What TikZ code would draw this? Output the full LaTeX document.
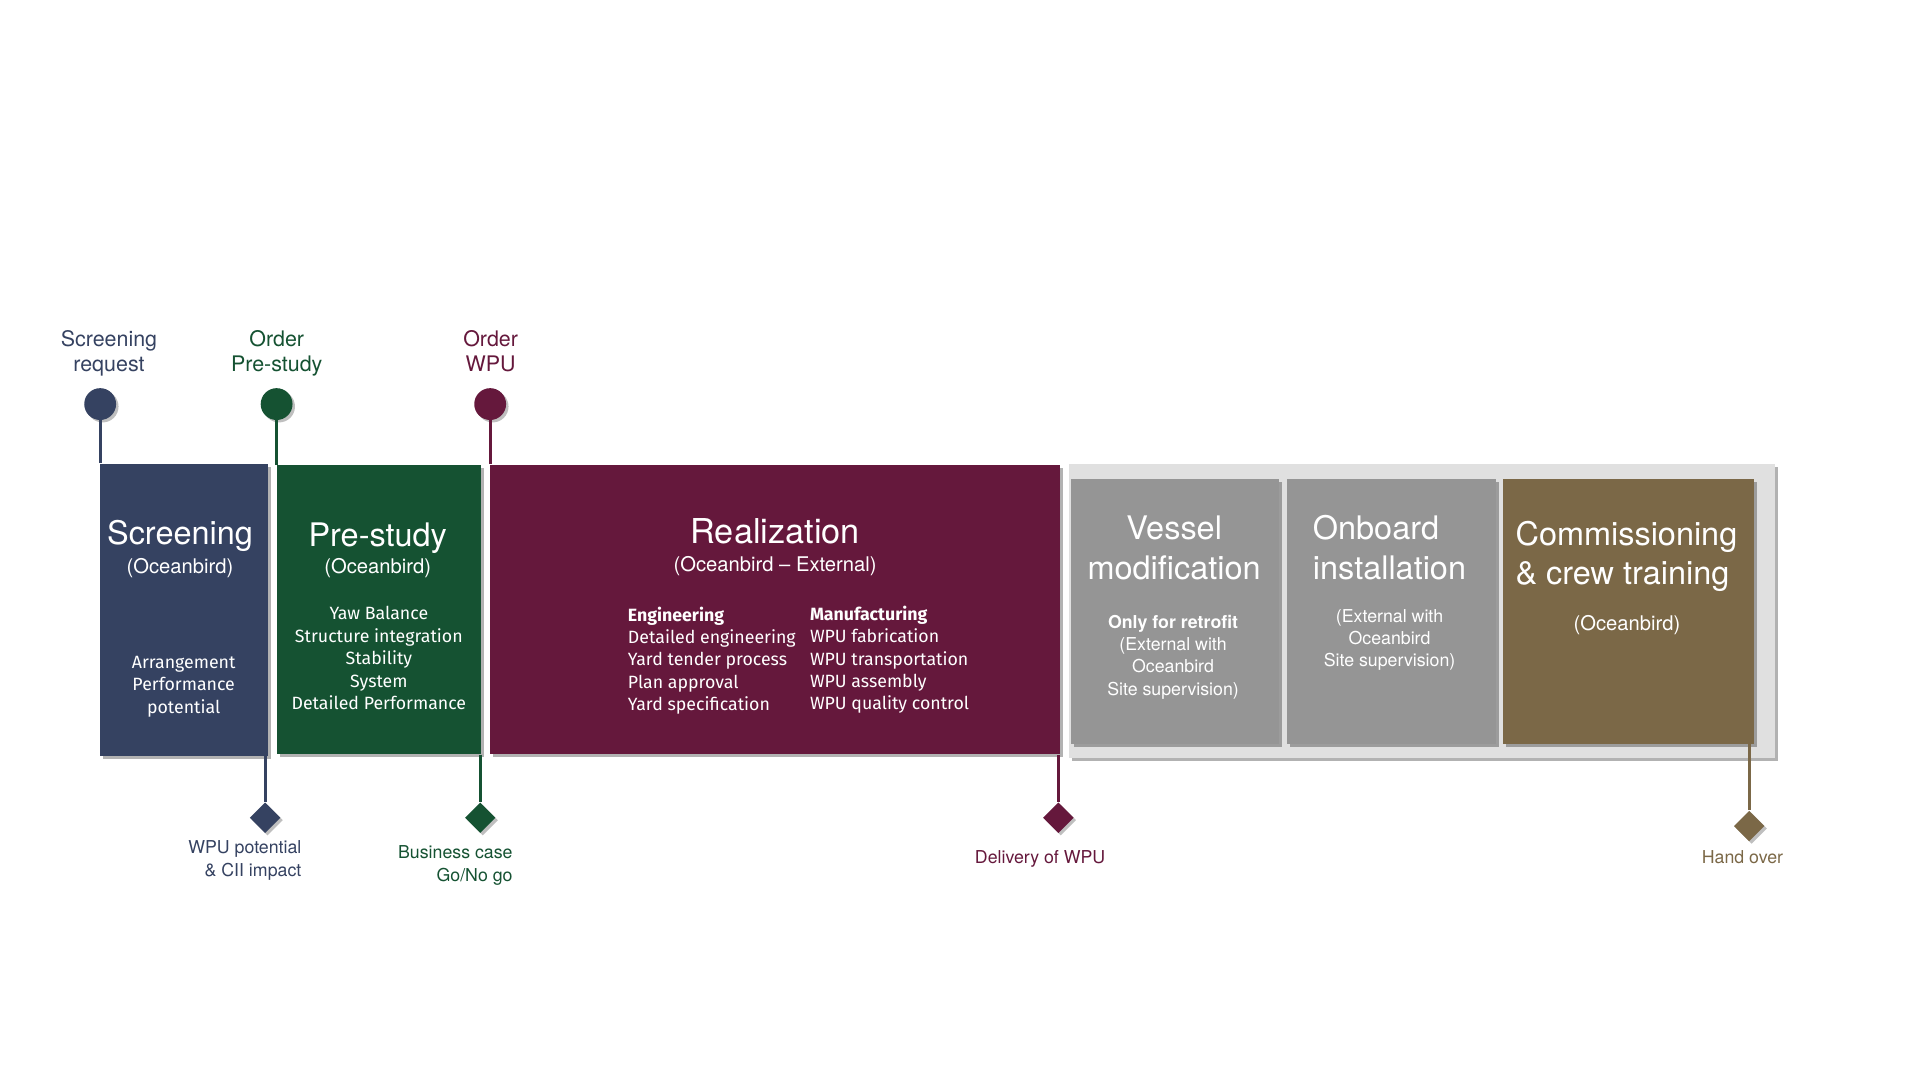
\documentclass[tikz,border=0pt]{standalone}
\usepackage{fontspec}
\setmainfont{TeX Gyre Heros}
\newfontfamily\listfont{Fira Sans}
\usetikzlibrary{shapes.geometric,shadows}

\definecolor{navy}{RGB}{53,66,97}
\definecolor{pine}{RGB}{21,82,50}
\definecolor{wine}{RGB}{101,24,60}
\definecolor{stone}{RGB}{149,149,149}
\definecolor{panelgray}{RGB}{224,224,224}
\definecolor{umber}{RGB}{123,104,71}

\newcommand{\fsz}[2]{\fontsize{#1}{#2}\selectfont}

\tikzset{
	phase/.style={fill=#1, inner sep=0pt, anchor=north west,
		drop shadow={shadow xshift=2.5pt, shadow yshift=-2.5pt, opacity=0.3, fill=black}},
	gate/.style={circle, fill=#1, minimum size=26pt, inner sep=0pt,
		drop shadow={shadow xshift=2pt, shadow yshift=-2pt, opacity=0.25, fill=black}},
	milestone/.style={diamond, fill=#1, minimum size=25pt, inner sep=0pt,
		drop shadow={shadow xshift=2pt, shadow yshift=-2pt, opacity=0.25, fill=black}},
	stem/.style={draw=#1, line width=2.5pt},
	title/.style={text=white, inner sep=0pt, align=center, font=\fsz{26.5}{32.6}},
	sub/.style={text=white, inner sep=0pt, align=center, font=\fsz{16.5}{19}},
	items/.style={text=white, inner sep=0pt, align=center, font=\listfont\fsz{14.5}{18.3}},
	note/.style={text=white, inner sep=0pt, align=center, font=\fsz{14.5}{18.2}},
	toplabel/.style={text=#1, inner sep=0pt, align=center, font=\fsz{17.5}{20.5}},
	botlabel/.style={text=#1, inner sep=0pt, align=right, font=\fsz{14.5}{18.6}},
}

\begin{document}
\begin{tikzpicture}[x=1pt, y=-1pt]
	\useasboundingbox (0,0) rectangle (1568,882);

	\node[phase=navy, minimum width=137pt, minimum height=239pt] (screening) at (81.3,378.4) {};
	\node[phase=pine, minimum width=166pt, minimum height=236pt] (prestudy) at (226.3,379.8) {};
	\node[phase=wine, minimum width=465.6pt, minimum height=236.6pt] (realization) at (399.6,379.2) {};
	\node[phase=panelgray, minimum width=577pt, minimum height=239.5pt] (panel) at (872.4,379) {};
	\node[phase=stone, minimum width=170pt, minimum height=216.4pt] (vessel) at (874.6,390.6) {};
	\node[phase=stone, minimum width=170.4pt, minimum height=216.4pt] (onboard) at (1051,390.6) {};
	\node[phase=umber, minimum width=205.3pt, minimum height=216.4pt] (commissioning) at (1226.9,390.6) {};

	% multi-line texts sit on the baseline of their last line
	\node[title, anchor=base] at (147,445) {Screening};
	\node[sub, anchor=base] at (147,468) {(Oceanbird)};
	\node[items, anchor=base] at (150,582.3) {Arrangement\\Performance\\potential};

	\node[title, anchor=base] at (308.5,446.5) {Pre-study};
	\node[sub, anchor=base] at (308.5,468.5) {(Oceanbird)};
	\node[items, anchor=base] at (309.4,579.5) {Yaw Balance\\Structure integration\\Stability\\System\\Detailed Performance};

	\node[title, anchor=base, font=\fsz{28}{32}] at (633,443.5) {Realization};
	\node[sub, anchor=base] at (633,467) {(Oceanbird -- External)};
	\node[items, align=left, anchor=base west] at (512.6,580.4)
		{\textbf{Engineering}\\Detailed engineering\\Yard tender process\\Plan approval\\Yard specification};
	\node[items, align=left, anchor=base west] at (661.3,579.7)
		{\textbf{Manufacturing}\\WPU fabrication\\WPU transportation\\WPU assembly\\WPU quality control};

	\node[title, anchor=base] at (958.9,473.1) {Vessel\\modification};
	\node[note, anchor=base] at (958,567.6) {\textbf{Only for retrofit}\\(External with\\Oceanbird\\Site supervision)};
	\node[title, align=left, anchor=base west] at (1072,473.1) {Onboard\\installation};
	\node[note, anchor=base] at (1134.8,544.4) {(External with\\Oceanbird\\Site supervision)};
	\node[title, align=left, anchor=base west] at (1237.5,477.7) {Commissioning\\\& crew training};
	\node[sub, anchor=base] at (1328.7,514.5) {(Oceanbird)};

	\node[gate=navy] (request) at (81.8,330) {};
	\node[gate=pine] (orderstudy) at (225.9,330) {};
	\node[gate=wine] (orderwpu) at (400.3,330) {};
	\node[toplabel=navy, anchor=base] at (89,303.5) {Screening\\request};
	\node[toplabel=pine, anchor=base] at (226,303.5) {Order\\Pre-study};
	\node[toplabel=wine, anchor=base] at (400.7,303.5) {Order\\WPU};
	\draw[stem=navy] (request.south) -- (request.south |- screening.north);
	\draw[stem=pine] (orderstudy.south) -- (orderstudy.south |- prestudy.north);
	\draw[stem=wine] (orderwpu.south) -- (orderwpu.south |- realization.north);

	\node[milestone=navy] (potential) at (216.5,667.8) {};
	\node[milestone=pine] (business) at (392.2,667.8) {};
	\node[milestone=wine] (delivery) at (864.3,667.8) {};
	\node[milestone=umber] (handover) at (1428.5,674.6) {};
	\draw[stem=navy] (potential.north |- screening.south) -- (potential.north);
	\draw[stem=pine] (business.north |- prestudy.south) -- (business.north);
	\draw[stem=wine] (delivery.north |- realization.south) -- (delivery.north);
	\draw[stem=umber] (handover.north |- commissioning.south) -- (handover.north);
	\node[botlabel=navy, anchor=base east] at (246.3,715.4) {WPU potential\\\& CII impact};
	\node[botlabel=pine, anchor=base east] at (418.8,720) {Business case\\Go/No go};
	\node[botlabel=wine, anchor=base east] at (902.8,705) {Delivery of WPU};
	\node[botlabel=umber, anchor=base] at (1423,705) {Hand over};
\end{tikzpicture}
\end{document}
